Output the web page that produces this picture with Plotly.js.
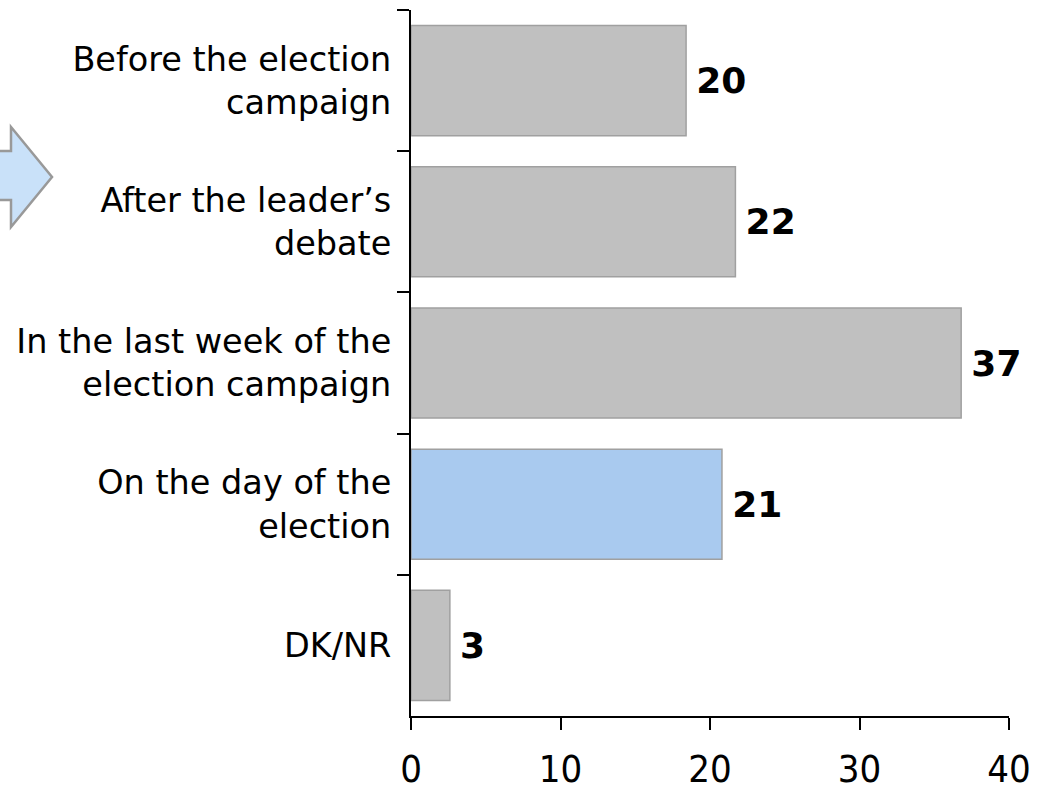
<!DOCTYPE html>
<html>
<head>
<meta charset="utf-8">
<script src="https://cdn.plot.ly/plotly-3.0.1.min.js"></script>
<style>html,body{margin:0;padding:0;background:#fff;}#chart{width:1044px;height:790px;}</style>
</head>
<body>
<div id="chart"></div>
<script>
var categories = [
  "Before the election<br>campaign",
  "After the leader\u2019s<br>debate",
  "In the last week of the<br>election campaign",
  "On the day of the<br>election",
  "DK/NR"
];
var barValues = [18.4, 21.7, 36.8, 20.8, 2.6];
var valueLabels = ["20", "22", "37", "21", "3"];
var barColors = ["#c0c0c0", "#c0c0c0", "#c0c0c0", "#a9caef", "#c0c0c0"];
var xTickValues = [0, 10, 20, 30, 40];

var trace = {
  type: "bar",
  orientation: "h",
  y: categories,
  x: barValues,
  text: valueLabels.map(function (t) { return "\u2009" + t; }),
  textposition: "outside",
  cliponaxis: false,
  textfont: {family: "DejaVu Sans", size: 36, color: "#000", weight: "bold"},
  marker: {color: barColors, line: {color: "#a0a0a0", width: 1.5}},
  hoverinfo: "skip"
};

var layout = {
  width: 1044,
  height: 790,
  margin: {l: 411, r: 35, t: 10, b: 74},
  paper_bgcolor: "#fff",
  plot_bgcolor: "#fff",
  showlegend: false,
  bargap: 0.22,
  xaxis: {
    range: [0, 40],
    tickvals: xTickValues,
    ticktext: xTickValues.map(String),
    showgrid: false,
    zeroline: false,
    showline: true,
    linecolor: "#000",
    linewidth: 2,
    ticks: "outside",
    ticklen: 12,
    tickwidth: 2,
    tickcolor: "#000",
    ticklabelstandoff: 6,
    tickfont: {family: "DejaVu Sans Condensed, Liberation Sans", size: 38, color: "#000"},
    fixedrange: true
  },
  yaxis: {
    type: "category",
    autorange: "reversed",
    showgrid: false,
    zeroline: false,
    showline: true,
    linecolor: "#000",
    linewidth: 2,
    ticks: "outside",
    tickson: "boundaries",
    ticklen: 12,
    tickwidth: 2,
    tickcolor: "#000",
    ticklabelstandoff: 11,
    tickfont: {family: "DejaVu Sans", size: 33.5, color: "#000"},
    fixedrange: true
  },
  shapes: [
    {
      type: "path",
      xref: "paper",
      yref: "paper",
      path: "M -0.6957,0.8003 L -0.6689,0.8003 L -0.6689,0.8343 L -0.6003,0.7635 L -0.6689,0.6926 L -0.6689,0.7309 L -0.6957,0.7309 Z",
      fillcolor: "#c9e1f9",
      line: {color: "#999999", width: 2.5}
    }
  ]
};

Plotly.newPlot("chart", [trace], layout, {displayModeBar: false, staticPlot: true});
</script>
</body>
</html>
